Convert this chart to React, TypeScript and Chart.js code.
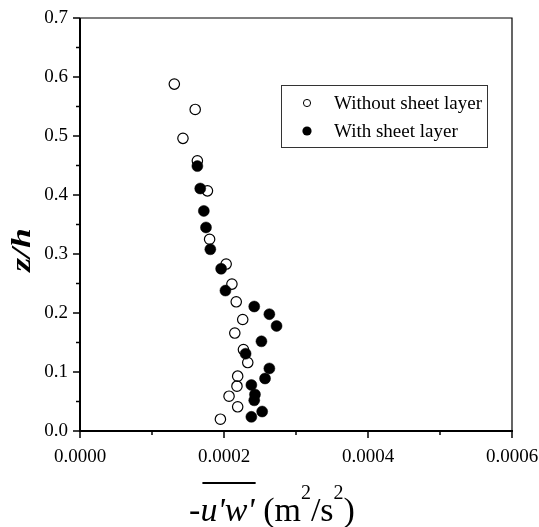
import React, { useEffect, useRef } from 'react';
import { Chart, registerables } from 'chart.js';

Chart.register(...registerables);

// z/h profiles of -u'w' (m^2/s^2)
const withoutX = [0.000131, 0.000160, 0.000143, 0.000163, 0.000177, 0.000180, 0.000203, 0.000211, 0.000217, 0.000226, 0.000215, 0.000227, 0.000233, 0.000219, 0.000218, 0.000207, 0.000219, 0.000195];
const withoutY = [0.588, 0.545, 0.496, 0.458, 0.407, 0.325, 0.283, 0.249, 0.219, 0.189, 0.166, 0.138, 0.116, 0.093, 0.076, 0.059, 0.041, 0.020];
const withX = [0.000163, 0.000167, 0.000172, 0.000175, 0.000181, 0.000196, 0.000202, 0.000242, 0.000263, 0.000273, 0.000252, 0.000230, 0.000263, 0.000257, 0.000238, 0.000243, 0.000242, 0.000253, 0.000238];
const withY = [0.449, 0.411, 0.373, 0.345, 0.308, 0.275, 0.238, 0.211, 0.198, 0.178, 0.152, 0.131, 0.106, 0.089, 0.078, 0.062, 0.052, 0.033, 0.024];

const seriesLabels = ['Without sheet layer', 'With sheet layer'];
const xRange = [0, 0.0006];
const yRange = [0, 0.7];
const xMinorStep = 0.0001;
const yMinorStep = 0.05;
const yTitle = 'z/h';

const SERIF = "'Liberation Serif', 'Times New Roman', Times, serif";

const framePlugin = {
  id: 'frame',
  afterDraw(chart: any) {
    const { ctx, chartArea: a, scales } = chart;
    const xs = scales.x;
    const ys = scales.y;
    ctx.save();
    ctx.strokeStyle = '#000';
    ctx.fillStyle = '#000';

    // top and right frame
    ctx.lineWidth = 1.2;
    ctx.beginPath();
    ctx.moveTo(a.left, a.top);
    ctx.lineTo(a.right, a.top);
    ctx.lineTo(a.right, a.bottom);
    ctx.stroke();

    // left and bottom axes
    ctx.lineWidth = 2;
    ctx.beginPath();
    ctx.moveTo(a.left, a.top);
    ctx.lineTo(a.left, a.bottom);
    ctx.lineTo(a.right + 1, a.bottom);
    ctx.stroke();

    // ticks (outward)
    ctx.lineWidth = 1.5;
    xs.ticks.forEach((t: any, i: number) => {
      const px = xs.getPixelForValue(t.value);
      const len = i % 2 === 0 ? 7 : 4;
      ctx.beginPath();
      ctx.moveTo(px, a.bottom);
      ctx.lineTo(px, a.bottom + len);
      ctx.stroke();
    });
    ys.ticks.forEach((t: any, i: number) => {
      const py = ys.getPixelForValue(t.value);
      const len = i % 2 === 0 ? 7 : 4;
      ctx.beginPath();
      ctx.moveTo(a.left, py);
      ctx.lineTo(a.left - len, py);
      ctx.stroke();
    });

    // y title
    ctx.save();
    ctx.translate(30, 250);
    ctx.rotate(-Math.PI / 2);
    ctx.scale(1.05, 0.82);
    ctx.font = `italic bold 34px ${SERIF}`;
    ctx.textAlign = 'center';
    ctx.textBaseline = 'alphabetic';
    ctx.fillText(yTitle, 0, 0);
    ctx.restore();

    // x title: -u'w' (m^2/s^2)
    const big = 34;
    const sup = 20;
    const base = 521;
    const parts: { t: string; f: string; dy: number; over?: boolean }[] = [
      { t: '-', f: `${big}px ${SERIF}`, dy: 0 },
      { t: "u'w'", f: `italic ${big}px ${SERIF}`, dy: 0, over: true },
      { t: ' (m', f: `${big}px ${SERIF}`, dy: 0 },
      { t: '2', f: `${sup}px ${SERIF}`, dy: -22 },
      { t: '/s', f: `${big}px ${SERIF}`, dy: 0 },
      { t: '2', f: `${sup}px ${SERIF}`, dy: -22 },
      { t: ')', f: `${big}px ${SERIF}`, dy: 0 },
    ];
    let total = 0;
    const widths = parts.map((p) => {
      ctx.font = p.f;
      const w = ctx.measureText(p.t).width;
      total += w;
      return w;
    });
    const cx = (a.left + a.right) / 2 - 24;
    let x = cx - total / 2;
    ctx.textAlign = 'left';
    ctx.textBaseline = 'alphabetic';
    parts.forEach((p, i) => {
      ctx.font = p.f;
      ctx.fillText(p.t, x, base + p.dy);
      if (p.over) {
        ctx.lineWidth = 2;
        ctx.beginPath();
        ctx.moveTo(x + 2, 483);
        ctx.lineTo(x + widths[i] + 1, 483);
        ctx.stroke();
      }
      x += widths[i];
    });

    // legend
    const lx = 281, ly = 85, lw = 206, lh = 62;
    ctx.lineWidth = 1;
    ctx.strokeStyle = '#333';
    ctx.strokeRect(lx + 0.5, ly + 0.5, lw, lh);
    ctx.strokeStyle = '#000';
    ctx.font = `19px ${SERIF}`;
    ctx.textBaseline = 'middle';
    const rows = [103, 131];
    rows.forEach((ry, i) => {
      ctx.beginPath();
      ctx.arc(307, ry, i === 0 ? 3.6 : 4.6, 0, Math.PI * 2);
      if (i === 0) {
        ctx.lineWidth = 1;
        ctx.stroke();
      } else {
        ctx.fill();
      }
      ctx.fillText(seriesLabels[i], 334, ry + 1);
    });

    ctx.restore();
  },
};

export default function App() {
  const ref = useRef<HTMLCanvasElement | null>(null);

  useEffect(() => {
    if (!ref.current) return;
    const chart = new Chart(ref.current, {
      type: 'scatter',
      data: {
        datasets: [
          {
            label: seriesLabels[1],
            data: withX.map((x, i) => ({ x, y: withY[i] })),
            pointRadius: 5.5,
            pointBackgroundColor: '#000',
            pointBorderColor: '#000',
            pointBorderWidth: 0.5,
            order: 0,
          },
          {
            label: seriesLabels[0],
            data: withoutX.map((x, i) => ({ x, y: withoutY[i] })),
            pointRadius: 5.2,
            pointBackgroundColor: 'rgba(255,255,255,0)',
            pointBorderColor: '#000',
            pointBorderWidth: 1.2,
            order: 1,
          },
        ],
      },
      options: {
        animation: false,
        responsive: false,
        devicePixelRatio: 1,
        layout: { padding: { left: 0, top: 18, right: 27, bottom: 0 } },
        plugins: {
          legend: { display: false },
          tooltip: { enabled: false },
        },
        scales: {
          x: {
            type: 'linear',
            min: xRange[0],
            max: xRange[1],
            grid: { display: false, drawTicks: false },
            border: { display: false },
            afterFit: (s: any) => {
              s.height = 96;
              s.paddingLeft = 0;
              s.paddingRight = 0;
            },
            ticks: {
              stepSize: xMinorStep,
              autoSkip: false,
              maxRotation: 0,
              padding: 15,
              color: '#000',
              font: { family: SERIF, size: 19 },
              callback: (v: any, i: number) => (i % 2 === 0 ? Number(v).toFixed(4) : ''),
            },
          },
          y: {
            type: 'linear',
            min: yRange[0],
            max: yRange[1],
            grid: { display: false, drawTicks: false },
            border: { display: false },
            afterFit: (s: any) => {
              s.width = 80;
              s.paddingTop = 0;
              s.paddingBottom = 0;
            },
            ticks: {
              stepSize: yMinorStep,
              autoSkip: false,
              padding: 12,
              color: '#000',
              font: { family: SERIF, size: 19 },
              callback: (v: any, i: number) => (i % 2 === 0 ? Number(v).toFixed(1) : ''),
            },
          },
        },
      },
      plugins: [framePlugin],
    });
    return () => chart.destroy();
  }, []);

  return (
    <div style={{ position: 'absolute', left: 0, top: 0, width: 539, height: 527, background: '#fff' }}>
      <canvas ref={ref} width={539} height={527} style={{ display: 'block' }} />
    </div>
  );
}
